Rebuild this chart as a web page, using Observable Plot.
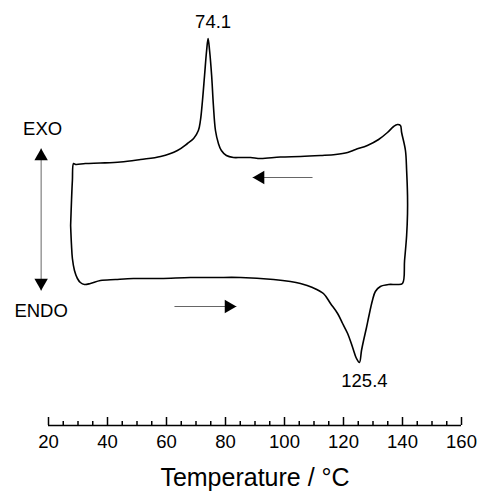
<!DOCTYPE html>
<html><head><meta charset="utf-8">
<script src="https://cdn.jsdelivr.net/npm/d3@7"></script>
<script src="https://cdn.jsdelivr.net/npm/@observablehq/plot@0.6"></script>
<style>body{margin:0;background:#fff;}</style>
</head><body><div id="chart"></div>
<script>
// DSC loop: heating run (bottom, left -> right), then cooling run (top, right -> left)
const heatingT = [27.5, 27.8, 28.1, 28.8, 29.8, 30.8, 32.2, 34.2, 37.6, 42.7, 48.8, 58.0, 68.1, 76.6, 85.1, 96.3, 102.0, 105.4, 109.5, 113.2, 115.6, 118.0, 119.7, 121.4, 123.1, 124.4, 125.4, 126.1, 126.8, 127.8, 128.5, 129.8, 130.8, 132.5, 135.3, 138.0, 140.0, 140.7, 141.4, 141.7];
const heatingH = [7.5, 5.5, 4.2, 3.0, 2.2, 1.8, 1.6, 1.7, 2.0, 2.1, 2.2, 2.2, 2.3, 2.3, 2.3, 2.1, 1.9, 1.7, 1.3, 0.7, -0.3, -1.3, -2.3, -3.3, -4.7, -5.8, -6.2, -5.0, -4.0, -2.7, -1.7, 0.0, 0.9, 1.4, 1.6, 1.6, 1.7, 4.0, 6.5, 8.7];
const coolingT = [141.7, 141.4, 141.0, 139.7, 139.3, 138.3, 137.0, 134.9, 131.9, 128.1, 124.1, 121.4, 117.3, 112.2, 105.4, 98.6, 91.9, 88.5, 85.1, 82.7, 80.3, 78.6, 77.6, 76.6, 75.9, 75.3, 74.6, 74.1, 73.6, 72.9, 72.2, 71.5, 70.8, 69.2, 67.1, 63.7, 58.0, 51.2, 44.4, 37.6, 32.5, 29.2, 28.5, 28.1, 27.8, 27.5];
const coolingH = [10.5, 13.0, 15.0, 16.8, 17.5, 17.6, 17.4, 16.8, 16.1, 15.5, 15.1, 14.8, 14.6, 14.5, 14.4, 14.35, 14.2, 14.3, 14.3, 14.3, 14.5, 15.0, 15.7, 17.0, 19.5, 22.5, 25.0, 26.2, 25.0, 22.5, 20.0, 18.0, 17.0, 16.2, 15.7, 15.0, 14.4, 14.1, 13.85, 13.75, 13.7, 13.6, 13.7, 12.0, 10.0, 7.5];

const peakT = [74.1, 125.4];
const peakH = [26.2, -6.2];
const peakLabels = ["74.1", "125.4"];

const xMajorTicks = [20, 40, 60, 80, 100, 120, 140, 160];
const xMinorTicks = [25, 30, 35, 45, 50, 55, 65, 70, 75, 85, 90, 95, 105, 110, 115, 125, 130, 135, 145, 150, 155];
const xTickLabels = ["20", "40", "60", "80", "100", "120", "140", "160"];
const xTitle = "Temperature / °C";

const sideLabels = ["EXO", "ENDO"];
const sideLabelT = [18.0, 17.5];
const sideLabelH = [17.1, -1.1];

// arrows: exo/endo double arrow, cooling (left), heating (right)
const arrowT1 = [17.5, 109.5, 62.7];
const arrowH1 = [15.2, 12.3, -0.6];
const arrowT2 = [17.5, 89.2, 83.7];
const arrowH2 = [1.0, 12.3, -0.6];

const yDomain = [-12.5, 30];

const loop = [
  ...heatingT.map((T, i) => ({T, h: heatingH[i]})),
  ...coolingT.map((T, i) => ({T, h: coolingH[i]}))
];
const peaks = peakT.map((T, i) => ({T, h: peakH[i], text: peakLabels[i]}));
const sides = sideLabels.map((text, i) => ({T: sideLabelT[i], h: sideLabelH[i], text}));
const arrows = arrowT1.map((T1, i) => ({T1, h1: arrowH1[i], T2: arrowT2[i], h2: arrowH2[i]}));

const frameH = 425;
const chart = Plot.plot({
  width: 478, height: 498,
  marginLeft: 48, marginRight: 17, marginTop: 0, marginBottom: 73,
  x: {domain: [20, 160], axis: null},
  y: {domain: yDomain, axis: null},
  style: {fontFamily: "'Liberation Sans', Arial, sans-serif", background: "white", color: "black"},
  marks: [
    Plot.ruleY([yDomain[0]], {strokeWidth: 1.6}),
    Plot.tickX(xMajorTicks, {x: d => d, insetTop: frameH - 8, strokeWidth: 1.5}),
    Plot.tickX(xMinorTicks, {x: d => d, insetTop: frameH - 4, strokeWidth: 1.5}),
    Plot.text(xMajorTicks, {x: d => d, text: (d, i) => xTickLabels[i], frameAnchor: "bottom", dy: 22, fontSize: 18.5}),
    Plot.text([xTitle], {frameAnchor: "bottom", dy: 60, fontSize: 25}),
    Plot.line(loop, {x: "T", y: "h", curve: "catmull-rom", stroke: "black", strokeWidth: 1.6}),
    Plot.text(peaks.slice(0, 1), {x: "T", y: "h", text: "text", dx: 5, dy: -16, fontSize: 18.5}),
    Plot.text(peaks.slice(1), {x: "T", y: "h", text: "text", dx: 5, dy: 19, fontSize: 18.5}),
    Plot.text(sides, {x: "T", y: "h", text: "text", fontSize: 18.5}),
    Plot.link(arrows, {x1: "T1", y1: "h1", x2: "T2", y2: "h2", stroke: "#666", strokeWidth: 1}),
    Plot.dot(arrows.slice(0, 1), {x: "T1", y: "h1", symbol: "triangle", r: 5, rotate: 0, dy: 7.8, fill: "black", stroke: null}),
    Plot.dot(arrows.slice(0, 1), {x: "T2", y: "h2", symbol: "triangle", r: 5, rotate: 180, dy: -7.8, fill: "black", stroke: null}),
    Plot.dot(arrows.slice(1, 2), {x: "T2", y: "h2", symbol: "triangle", r: 5, rotate: -90, dx: 7.8, fill: "black", stroke: null}),
    Plot.dot(arrows.slice(2, 3), {x: "T2", y: "h2", symbol: "triangle", r: 5, rotate: 90, dx: -7.8, fill: "black", stroke: null})
  ]
});
document.getElementById("chart").appendChild(chart);
</script>
</body></html>
